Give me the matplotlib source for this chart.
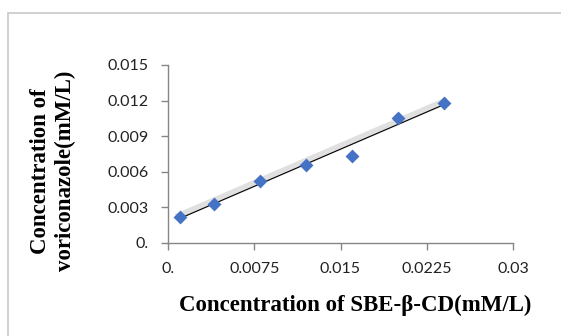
import numpy as np
import matplotlib
matplotlib.use("Agg")
import matplotlib.pyplot as plt
import matplotlib.patheffects as pe
from matplotlib.patches import Rectangle

# data
sbe_conc = [0.001, 0.004, 0.008, 0.012, 0.016, 0.020, 0.024]
vori_conc = [0.0022, 0.00325, 0.0052, 0.00655, 0.00735, 0.01055, 0.0118]
x_ticks = [0.0, 0.0075, 0.015, 0.0225, 0.03]
x_tick_labels = ["0.", "0.0075", "0.015", "0.0225", "0.03"]
y_ticks = [0.0, 0.003, 0.006, 0.009, 0.012, 0.015]
y_tick_labels = ["0.", "0.003", "0.006", "0.009", "0.012", "0.015"]

my_dpi = 100
W, H = 561, 336
fig = plt.figure(figsize=(W/my_dpi, H/my_dpi), dpi=my_dpi)
ax = fig.add_axes([168/W, 1-242.7/H, (513-168)/W, (242.7-65)/H])

# outer frame of the picture
fig.patches.append(Rectangle((8/W, -0.1), 1.0, 1.1 - 13/H, transform=fig.transFigure,
                             fill=False, edgecolor="#c8c8c8", linewidth=1.2))

# linear trend line with a soft gray shadow
slope, icpt = np.polyfit(sbe_conc, vori_conc, 1)
xs = np.array([min(sbe_conc), max(sbe_conc)])
ax.plot(xs, slope*xs + icpt, color="black", linewidth=0.8, zorder=2,
        path_effects=[pe.SimpleLineShadow(offset=(0, 2), shadow_color="#a8a8a8", alpha=0.35, linewidth=5),
                      pe.Normal()])

ax.scatter(sbe_conc, vori_conc, marker="D", s=50, color="#4472C4", zorder=3, linewidths=0)

ax.set_xlim(0, 0.03)
ax.set_ylim(0, 0.015)
ax.set_xticks(x_ticks)
ax.set_xticklabels(x_tick_labels)
ax.set_yticks(y_ticks)
ax.set_yticklabels(y_tick_labels)

for s in ["top", "right"]:
    ax.spines[s].set_visible(False)
for s in ["left", "bottom"]:
    ax.spines[s].set_color("#868686")
    ax.spines[s].set_linewidth(1.0)
ax.tick_params(axis="both", direction="out", length=5, color="#868686", width=1.0,
               labelsize=11.5, labelcolor="#222222", pad=9)
for lab in ax.get_xticklabels() + ax.get_yticklabels():
    lab.set_family("Lato")

# axis titles placed where they sit in the reference
fig.text(355/W, 1-305/H, "Concentration of SBE-β-CD(mM/L)", family="Liberation Serif",
         fontweight="bold", fontsize=16.5, ha="center", va="center")
fig.text(53/W, 1-171/H, "Concentration of\nvoriconazole(mM/L)", family="Liberation Serif",
         fontweight="bold", fontsize=16.5, ha="center", va="center", rotation=90,
         linespacing=1.2, multialignment="center")

fig.savefig("out.png", dpi=my_dpi)
